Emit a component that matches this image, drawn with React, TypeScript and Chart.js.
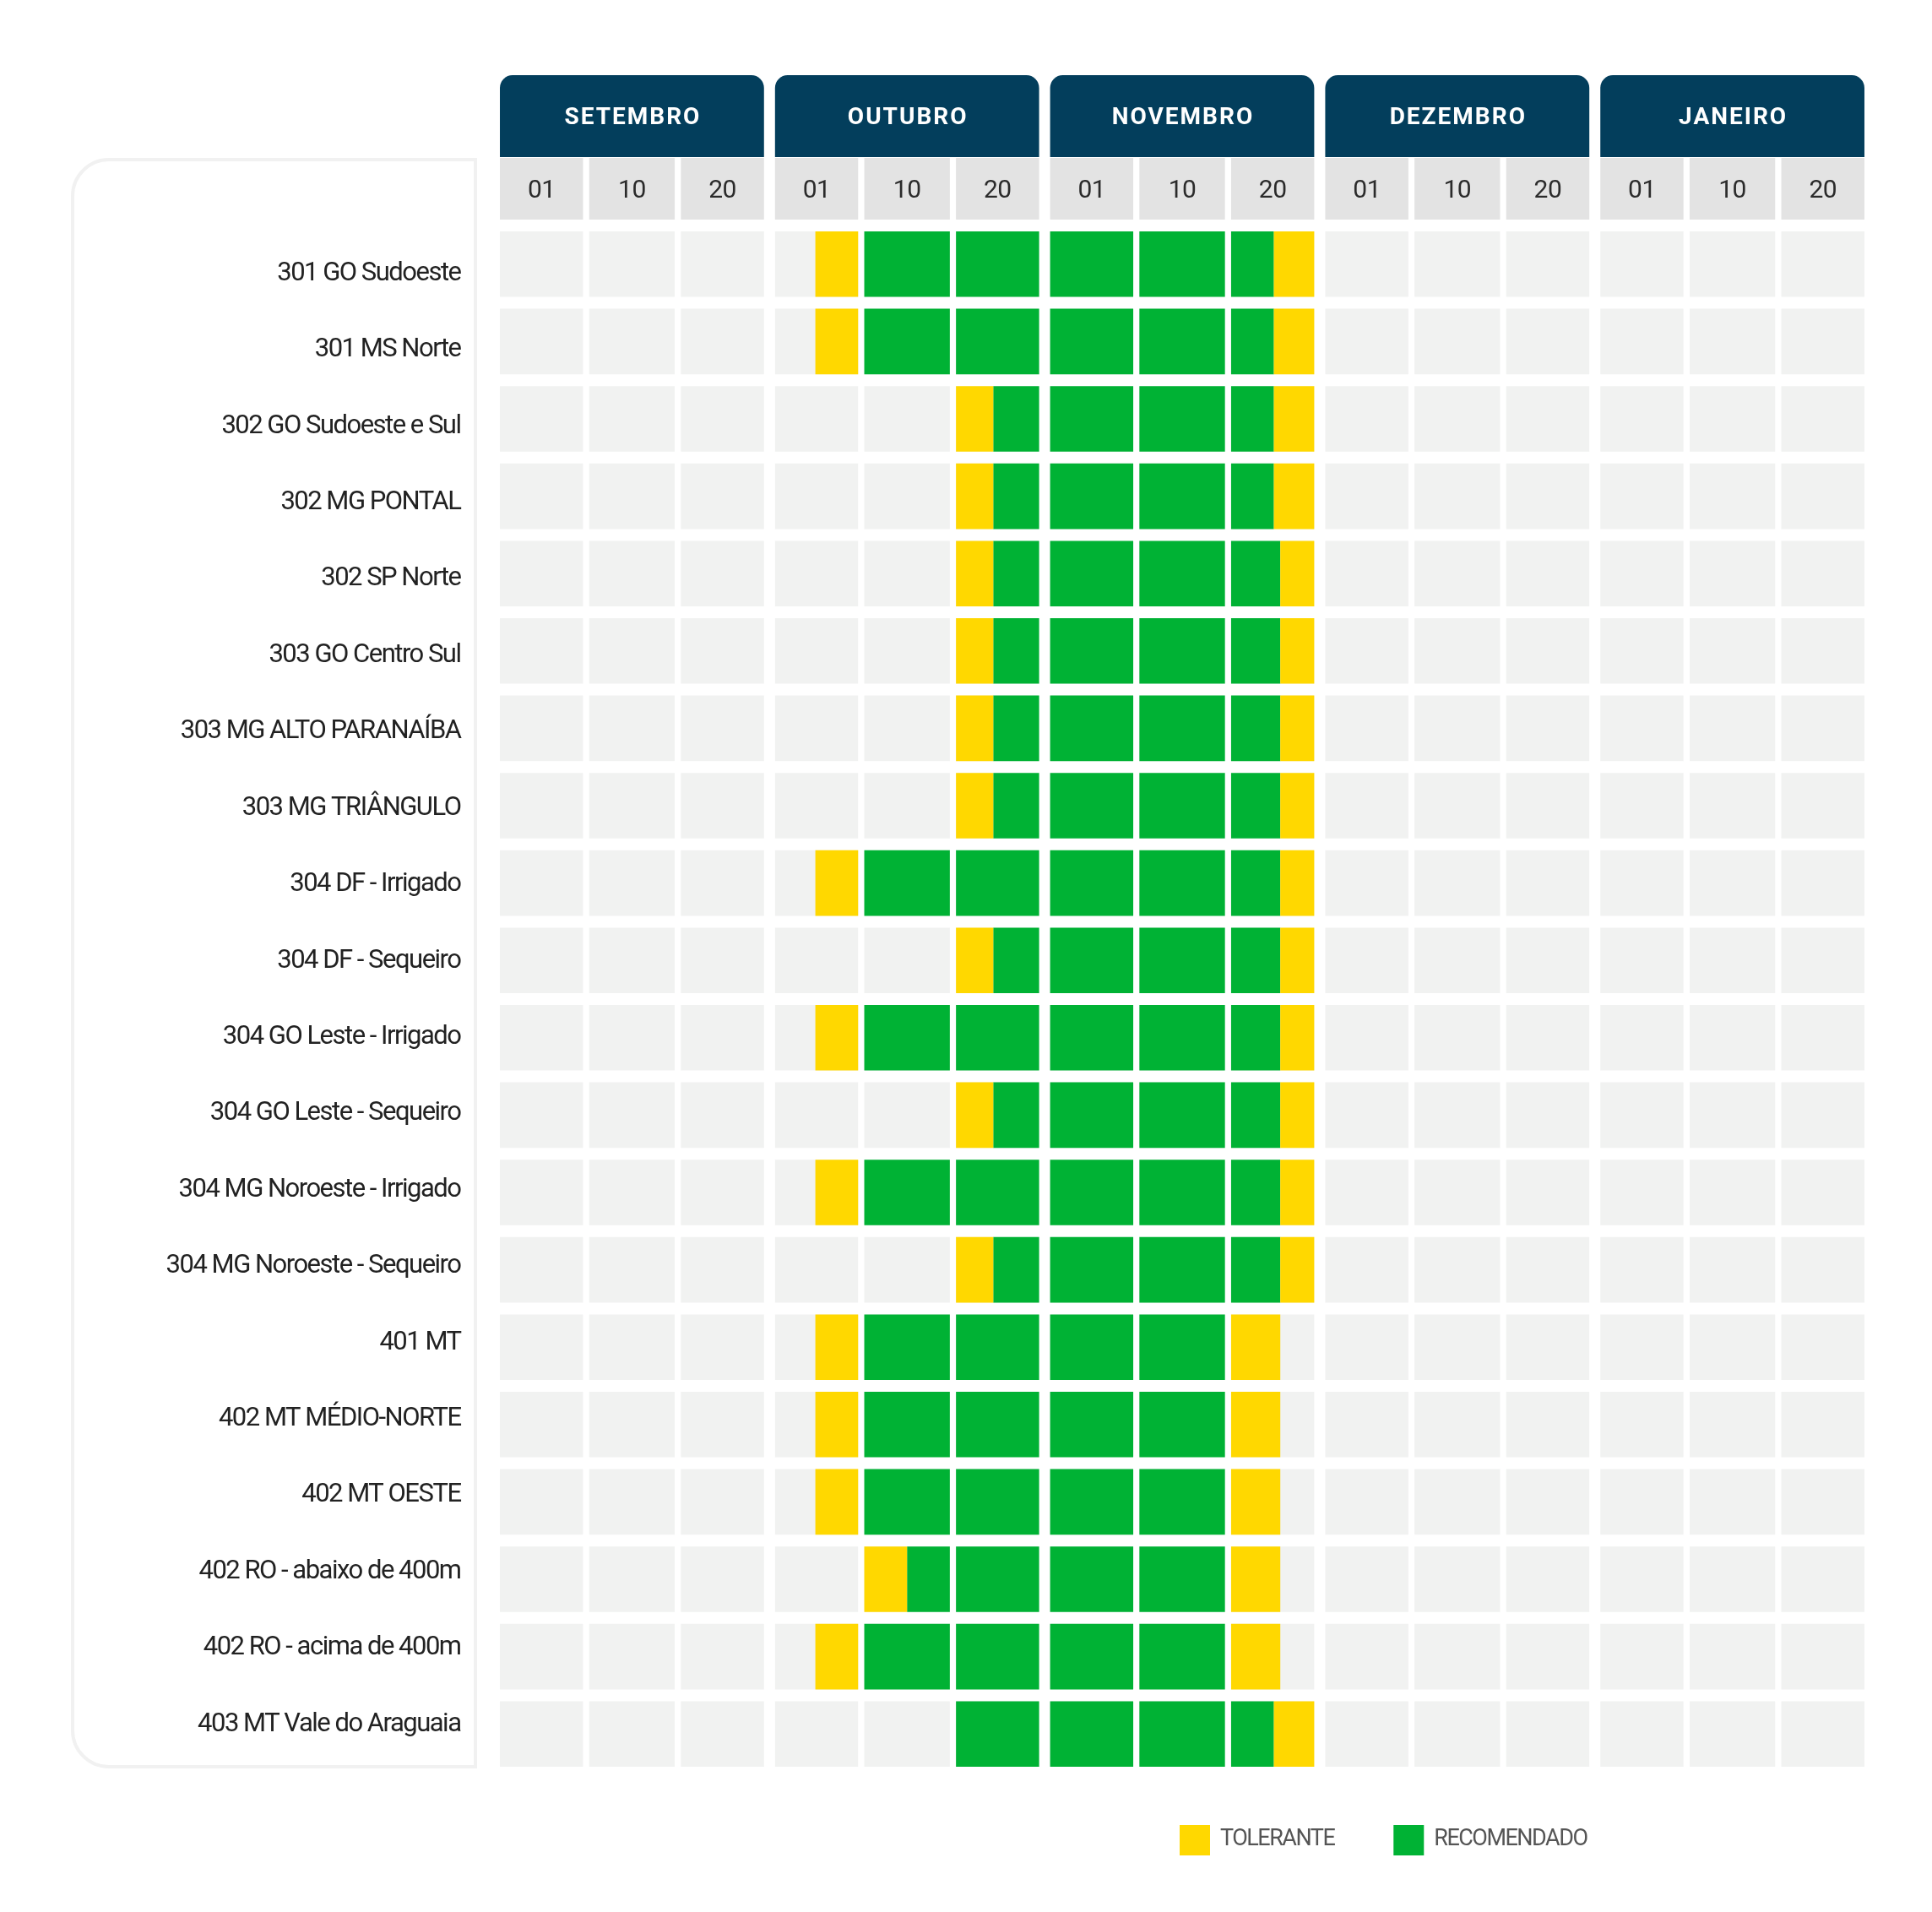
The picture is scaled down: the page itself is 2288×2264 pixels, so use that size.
import React, { useEffect, useRef } from 'react';
import { Chart, registerables } from 'chart.js';

Chart.register(...registerables);

// ---------- data ----------
const regions = [
  '301 GO Sudoeste',
  '301 MS Norte',
  '302 GO Sudoeste e Sul',
  '302 MG PONTAL',
  '302 SP Norte',
  '303 GO Centro Sul',
  '303 MG ALTO PARANAÍBA',
  '303 MG TRIÂNGULO',
  '304 DF - Irrigado',
  '304 DF - Sequeiro',
  '304 GO Leste - Irrigado',
  '304 GO Leste - Sequeiro',
  '304 MG Noroeste - Irrigado',
  '304 MG Noroeste - Sequeiro',
  '401 MT',
  '402 MT MÉDIO-NORTE',
  '402 MT OESTE',
  '402 RO - abaixo de 400m',
  '402 RO - acima de 400m',
  '403 MT Vale do Araguaia',
];

const months = ['SETEMBRO', 'OUTUBRO', 'NOVEMBRO', 'DEZEMBRO', 'JANEIRO'];
const days = ['01', '10', '20'];

// Periods measured in decêndios from 01/Set (0 = Set 01 ... 15 = end of Jan)
const toleranteInicio: ([number, number] | null)[] = [
  [3.5, 4], [3.5, 4], [5, 5.44], [5, 5.44], [5, 5.44], [5, 5.44], [5, 5.44], [5, 5.44],
  [3.5, 4], [5, 5.44], [3.5, 4], [5, 5.44], [3.5, 4], [5, 5.44],
  [3.5, 4], [3.5, 4], [3.5, 4], [4, 4.5], [3.5, 4], null,
];
const recomendado: [number, number][] = [
  [4, 8.5], [4, 8.5], [5.44, 8.5], [5.44, 8.5], [5.44, 8.57], [5.44, 8.57], [5.44, 8.57], [5.44, 8.57],
  [4, 8.57], [5.44, 8.57], [4, 8.57], [5.44, 8.57], [4, 8.57], [5.44, 8.57],
  [4, 8], [4, 8], [4, 8], [4.5, 8], [4, 8], [5, 8.5],
];
const toleranteFim: [number, number][] = [
  [8.5, 9], [8.5, 9], [8.5, 9], [8.5, 9], [8.57, 9], [8.57, 9], [8.57, 9], [8.57, 9],
  [8.57, 9], [8.57, 9], [8.57, 9], [8.57, 9], [8.57, 9], [8.57, 9],
  [8, 8.57], [8, 8.57], [8, 8.57], [8, 8.57], [8, 8.57], [8.5, 9],
];

const legendLabels = ['TOLERANTE', 'RECOMENDADO'];

// ---------- styling ----------
const YELLOW = '#ffd800';
const GREEN = '#00b234';
const NAVY = '#033e5c';
const CELL = '#f1f2f1';
const DAYHEAD = '#e3e3e3';
const GM = 0.12; // gap between months (in period units)
const GD = 0.067; // gap between decêndios

const nPeriods = months.length * days.length;

const cellBounds = (i: number): [number, number] => {
  const d = i % days.length;
  const s = i + (d === 0 ? GM / 2 : GD / 2);
  const e = i + 1 - (d === days.length - 1 ? GM / 2 : GD / 2);
  return [s, e];
};

const pieces = (rg: [number, number]): [number, number][] => {
  const out: [number, number][] = [];
  for (let i = Math.floor(rg[0]); i < Math.ceil(rg[1]); i++) {
    const [cs, ce] = cellBounds(i);
    const a = Math.max(rg[0], cs);
    const b = Math.min(rg[1], ce);
    if (b > a) out.push([a, b]);
  }
  return out;
};

const gridData = regions.flatMap((r) =>
  Array.from({ length: nPeriods }, (_, i) => ({ y: r, x: cellBounds(i) }))
);
const tolData = regions.flatMap((r, k) =>
  [toleranteInicio[k], toleranteFim[k]]
    .filter((v): v is [number, number] => !!v)
    .flatMap((rg) => pieces(rg).map((x) => ({ y: r, x })))
);
const recData = regions.flatMap((r, k) => pieces(recomendado[k]).map((x) => ({ y: r, x })));

// label column geometry (labels sit on a slightly tighter pitch than the rows)
const CHART_TOP = 267;
const CHART_BOTTOM = 2099;
const LABEL_FIRST = 324;
const LABEL_PITCH = 90.42;
const labelMin = -(LABEL_FIRST - CHART_TOP) / LABEL_PITCH;
const labelMax = labelMin + (CHART_BOTTOM - CHART_TOP) / LABEL_PITCH;

const decorPlugin = {
  id: 'decor',
  beforeDraw(chart: any) {
    const { ctx, chartArea, scales } = chart;
    const xs = scales.x;
    const px = (v: number) => xs.getPixelForValue(v);
    const top = chartArea.top;
    ctx.save();
    ctx.letterSpacing = '0px';
    ctx.fillStyle = '#ffffff';
    ctx.fillRect(0, 0, chart.width, chart.height);

    // label panel
    ctx.beginPath();
    ctx.roundRect(86, top - 78, chartArea.left - 22.5 - 86, chartArea.bottom - 7 - (top - 78), [43, 0, 0, 43]);
    ctx.lineWidth = 4;
    ctx.strokeStyle = '#f1f1f1';
    ctx.stroke();

    // month headers
    const mTop = top - 178;
    const mBot = top - 81;
    months.forEach((m, k) => {
      const l = px(k * 3 + GM / 2);
      const r = px(k * 3 + 3 - GM / 2);
      ctx.beginPath();
      ctx.roundRect(l, mTop, r - l, mBot - mTop, [15, 15, 0, 0]);
      ctx.fillStyle = NAVY;
      ctx.fill();
      ctx.fillStyle = '#ffffff';
      ctx.font = 'bold 28px Roboto';
      ctx.letterSpacing = '2px';
      ctx.textAlign = 'center';
      ctx.textBaseline = 'middle';
      ctx.fillText(m, (l + r) / 2 + 1, (mTop + mBot) / 2 + 2.5);
    });

    // day headers
    const dTop = top - 80;
    const dBot = top - 7;
    for (let i = 0; i < nPeriods; i++) {
      const [s, e] = cellBounds(i);
      const l = px(s);
      const r = px(e);
      ctx.fillStyle = DAYHEAD;
      ctx.fillRect(l, dTop, r - l, dBot - dTop);
      ctx.fillStyle = '#2b2b2b';
      ctx.font = '30px Roboto';
      ctx.letterSpacing = '-0.5px';
      ctx.textAlign = 'center';
      ctx.textBaseline = 'middle';
      ctx.fillText(days[i % days.length], (l + r) / 2, (dTop + dBot) / 2 + 2.5);
    }
    ctx.restore();
    ctx.letterSpacing = '-1.5px';
  },
  afterDraw(chart: any) {
    const { ctx } = chart;
    ctx.letterSpacing = '0px';
    ctx.save();
    ctx.font = '27px Roboto';
    ctx.letterSpacing = '-1.5px';
    ctx.textAlign = 'left';
    ctx.textBaseline = 'middle';
    const cy = 2179;
    let lx = 1397;
    const ds = chart.data.datasets.filter((d: any) => legendLabels.includes(d.label));
    ds.forEach((d: any) => {
      ctx.fillStyle = d.backgroundColor;
      ctx.fillRect(lx, cy - 18, 36, 36);
      ctx.fillStyle = '#555555';
      ctx.fillText(d.label, lx + 48, cy - 1);
      lx += 48 + ctx.measureText(d.label).width + 70;
    });
    ctx.restore();
  },
};

export default function App() {
  const ref = useRef<HTMLCanvasElement>(null);
  useEffect(() => {
    document.body.style.margin = '0';
    const chart = new Chart(ref.current as HTMLCanvasElement, {
      type: 'bar',
      data: {
        labels: regions,
        datasets: [
          { label: legendLabels[0], data: tolData as any, backgroundColor: YELLOW, order: 1 },
          { label: legendLabels[1], data: recData as any, backgroundColor: GREEN, order: 2 },
          { label: 'grade', data: gridData as any, backgroundColor: CELL, order: 3 },
        ],
      },
      options: {
        indexAxis: 'y',
        responsive: false,
        animation: false,
        devicePixelRatio: 1,
        layout: { padding: { top: CHART_TOP, bottom: 2264 - CHART_BOTTOM, left: 0, right: 73.5 } },
        datasets: {
          bar: {
            grouped: false,
            barPercentage: 0.847,
            categoryPercentage: 1,
            borderWidth: 0,
            borderSkipped: false,
            inflateAmount: 0,
          } as any,
        },
        scales: {
          x: { type: 'linear', min: 0, max: nPeriods, display: false },
          y: {
            type: 'category',
            offset: true,
            display: false,
          },
          yl: {
            type: 'linear',
            position: 'left',
            reverse: true,
            offset: false,
            bounds: 'data',
            min: labelMin,
            max: labelMax,
            grid: { display: false, drawTicks: false, offset: false },
            border: { display: false },
            afterBuildTicks: (s: any) => {
              s.ticks = regions.map((_, i) => ({ value: i }));
              s.min = labelMin;
              s.max = labelMax;
            },
            ticks: {
              color: '#222222',
              font: { family: 'Roboto', size: 31 },
              padding: 40,
              autoSkip: false,
              callback: (v: any) => regions[Math.round(Number(v))] ?? '',
            },
            afterFit: (s: any) => {
              s.width = 585.5;
            },
          } as any,
        },
        plugins: {
          legend: { display: false },
          tooltip: { enabled: false },
        },
      },
      plugins: [decorPlugin],
    });
    return () => chart.destroy();
  }, []);
  return (
    <div style={{ width: 2288, height: 2264, background: '#fff' }}>
      <canvas ref={ref} width={2288} height={2264} style={{ display: 'block', width: 2288, height: 2264 }} />
    </div>
  );
}
